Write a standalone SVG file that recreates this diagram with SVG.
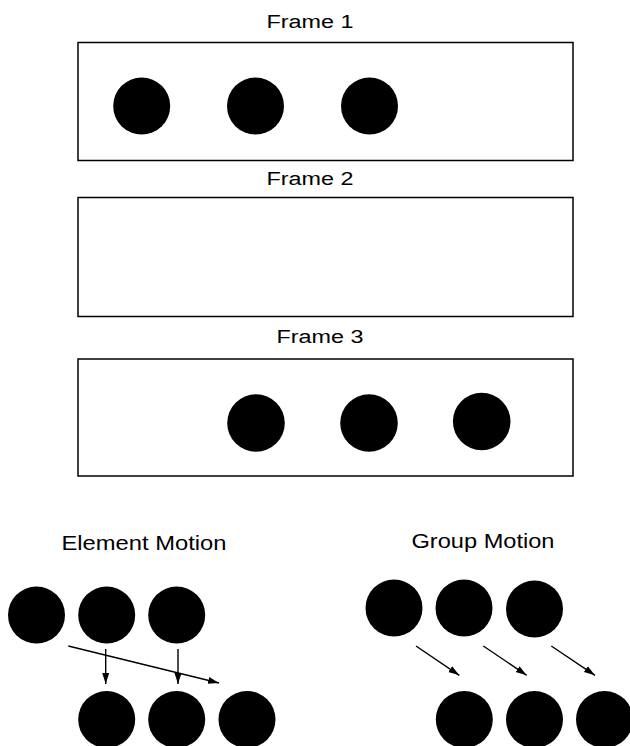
<svg xmlns="http://www.w3.org/2000/svg" width="630" height="746" viewBox="0 0 630 746">
<style>
.frame{fill:#fff;stroke:#000;stroke-width:1.5}
.dot{fill:#000}
.lbl{font-family:"Liberation Sans",Arial,sans-serif;fill:#000;text-anchor:middle}
.arr{stroke:#000;stroke-width:1.4;fill:none;marker-end:url(#ah)}
</style>
<defs>
<marker id="ah" markerUnits="userSpaceOnUse" markerWidth="12" markerHeight="10" viewBox="0 0 12 10" refX="11" refY="5" orient="auto">
<path d="M0,1.5 L11,5 L0,8.5 Z" fill="#000"/>
</marker>
</defs>
<rect width="630" height="746" fill="#fff"/>
<g id="frame1">
<text class="lbl" x="310" y="28" font-size="18" textLength="87" lengthAdjust="spacingAndGlyphs">Frame 1</text>
<rect class="frame" x="78" y="42.5" width="495" height="118"/>
<circle class="dot" cx="141.7" cy="106" r="28.5"/>
<circle class="dot" cx="255.5" cy="106" r="28.5"/>
<circle class="dot" cx="369.5" cy="106" r="28.5"/>
</g>
<g id="frame2">
<text class="lbl" x="310" y="185" font-size="18" textLength="87" lengthAdjust="spacingAndGlyphs">Frame 2</text>
<rect class="frame" x="78" y="197.5" width="495" height="119"/>
</g>
<g id="frame3">
<text class="lbl" x="320" y="343" font-size="18" textLength="87" lengthAdjust="spacingAndGlyphs">Frame 3</text>
<rect class="frame" x="78" y="359" width="495" height="117"/>
<circle class="dot" cx="256" cy="423" r="28.8"/>
<circle class="dot" cx="369" cy="423" r="28.8"/>
<circle class="dot" cx="481.7" cy="421.5" r="28.8"/>
</g>
<g id="element-motion">
<text class="lbl" x="144" y="550" font-size="21" textLength="165" lengthAdjust="spacingAndGlyphs">Element Motion</text>
<circle class="dot" cx="36.5" cy="615" r="28.5"/>
<circle class="dot" cx="106.7" cy="615" r="28.5"/>
<circle class="dot" cx="176.7" cy="615" r="28.5"/>
<circle class="dot" cx="106.7" cy="719.5" r="28.5"/>
<circle class="dot" cx="176.7" cy="719.5" r="28.5"/>
<circle class="dot" cx="247" cy="719.5" r="28.5"/>
</g>
<g id="group-motion">
<text class="lbl" x="483" y="548" font-size="21" textLength="143" lengthAdjust="spacingAndGlyphs">Group Motion</text>
<circle class="dot" cx="394" cy="608" r="28.5"/>
<circle class="dot" cx="464" cy="608" r="28.5"/>
<circle class="dot" cx="534.5" cy="609" r="28.5"/>
<circle class="dot" cx="464.3" cy="719.5" r="28.5"/>
<circle class="dot" cx="534.5" cy="719.5" r="28.5"/>
<circle class="dot" cx="604.5" cy="719.5" r="28.5"/>
</g>
<g id="connectors">
<line class="arr" x1="68.3" y1="646" x2="219" y2="683"/>
<line class="arr" x1="105.7" y1="649" x2="105.7" y2="684"/>
<line class="arr" x1="178" y1="649" x2="178" y2="684"/>
<line class="arr" x1="416" y1="646" x2="459.3" y2="675.3"/>
<line class="arr" x1="483.3" y1="646" x2="526.7" y2="675.3"/>
<line class="arr" x1="551.3" y1="646" x2="595" y2="675.3"/>
</g>
</svg>
